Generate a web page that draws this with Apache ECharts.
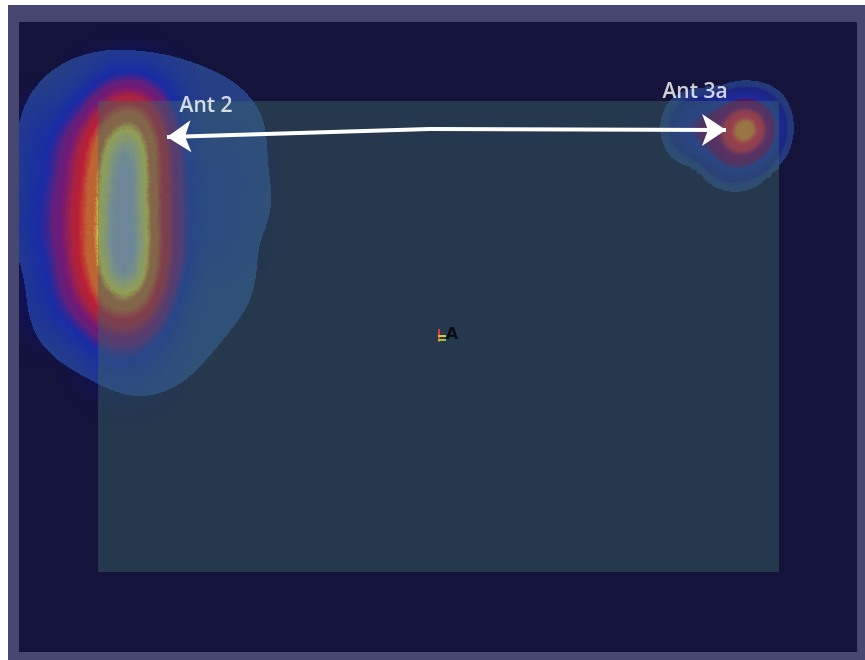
<!DOCTYPE html>
<html>
<head>
<meta charset="utf-8">
<title>Ant 2 / Ant 3a coverage</title>
<script src="https://cdn.jsdelivr.net/npm/echarts@6/dist/echarts.min.js"></script>
<style>
  html, body { margin: 0; padding: 0; background: #ffffff; }
  #main { position: absolute; left: 8px; top: 5px; width: 857px; height: 655px; background: #46466e; }
</style>
</head>
<body>
<div id="main"></div>
<script>
// floor plan in metres, x to the right, y downwards
const floorSize = [83.8, 63.0];
const surveyArea = [[7.9, 7.9], [76.0, 55.0]];

// Ant 2 coverage edge samples [x, y, level]
const ant2Coverage = [
  [9.9, 9.6, 1], [6.9, 10.6, 1], [14.1, 10.1, 1], [6.9, 13.8, 1], [5.3, 18.3, 1],
  [6.9, 22.8, 1], [7.6, 28.3, 1], [12.1, 30.8, 1], [14.6, 27.8, 1], [17.1, 24.8, 1],
  [18.6, 17.8, 1], [18.1, 11.8, 1], [12.1, 17.8, 1], [12.1, 23.8, 1]
];
// Ant 2 signal samples [x, y, level 0..1]
const ant2Signal = [
  [11.1, 9.8, 1.0], [11.1, 12.8, 1.0], [11.1, 15.8, 1.0], [11.1, 18.8, 1.0],
  [11.1, 21.8, 1.0], [11.1, 24.8, 1.0], [11.1, 27.6, 1.0],
  [10.9, 7.3, 0.3],
  [6.6, 12.8, 0.45], [6.6, 17.8, 0.55], [6.6, 22.8, 0.55], [6.6, 27.3, 0.4],
  [2.6, 11.8, 0.25], [2.6, 19.8, 0.3], [2.6, 27.8, 0.2],
  [19.6, 14.8, 0.25], [18.6, 21.3, 0.25],
  [10.1, 31.3, 0.3], [10.6, 33.8, 0.2]
];
// Ant 3a signal samples [x, y, level 0..1]
const ant3aSignal = [
  [72.7, 10.6, 1.0], [68.1, 10.6, 0.3], [71.6, 13.0, 0.3]
];

const antennaNames = ['Ant 2', 'Ant 3a'];
const antennaLabelPos = [[18.7, 8.4], [67.6, 7.0]];
// arrow between the two antennas: bend point, left end, right end
const linkBend = [41.1, 10.7];
const linkEnds = [[14.8, 11.5], [70.7, 10.8]];
const apMarker = [42.8, 31.3];

const toGeo = p => [p[0], -p[1]];

echarts.registerMap('floor', {
  type: 'FeatureCollection',
  features: [{
    type: 'Feature',
    properties: { name: 'floor' },
    geometry: {
      type: 'Polygon',
      coordinates: [[[0, 0], [floorSize[0], 0], [floorSize[0], -floorSize[1]], [0, -floorSize[1]], [0, 0]]]
    }
  }]
});

// heat scale: intensity -> rgba
function buildRamp(stops) {
  const out = [];
  for (let i = 0; i <= 100; i++) {
    const t = i / 100;
    let k = 0;
    while (k < stops.length - 2 && t > stops[k + 1][0]) k++;
    const a = stops[k], b = stops[k + 1];
    const f = Math.min(1, Math.max(0, (t - a[0]) / (b[0] - a[0])));
    const c = a[1].map((v, j) => v + (b[1][j] - v) * f);
    out.push('rgba(' + Math.round(c[0]) + ',' + Math.round(c[1]) + ',' + Math.round(c[2]) + ',' + c[3].toFixed(2) + ')');
  }
  return out;
}
const LB = [70, 140, 255], BL = [0, 10, 220], PU = [150, 5, 115], RD = [189, 30, 53],
  OR = [190, 100, 50], YE = [215, 205, 70], CORE = [150, 162, 195];
const c1 = c => c.concat(1);
const edgeScale = buildRamp([
  [0, LB.concat(0)], [0.28, LB.concat(0)], [0.32, c1(LB)], [1, c1(LB)]
]);
const ant2Scale = buildRamp([
  [0, c1(BL)], [0.10, c1(BL)], [0.15, c1(PU)], [0.18, c1(PU)],
  [0.24, c1(RD)], [0.28, c1(RD)], [0.33, c1(OR)], [0.37, c1(OR)],
  [0.40, c1(YE)], [0.43, [185, 190, 130, 1]], [0.455, c1(CORE)], [1, c1(CORE)]
]);
const ant3aScale = buildRamp([
  [0, LB.concat(0)], [0.003, LB.concat(0)], [0.005, c1(LB)], [0.018, c1(LB)],
  [0.03, [40, 70, 255, 1]], [0.10, [40, 70, 255, 1]], [0.14, c1(PU)], [0.23, c1(PU)],
  [0.29, [230, 35, 60, 1]], [0.37, [230, 35, 60, 1]], [0.42, [230, 130, 40, 1]], [1, [230, 150, 50, 1]]
]);

var chartDom = document.getElementById('main');
var myChart = echarts.init(chartDom);
var option;

option = {
  animation: false,
  geo: {
    map: 'floor',
    roam: false,
    silent: true,
    aspectScale: 1,
    left: 11,
    top: 17,
    width: 838,
    height: 630,
    boundingCoords: [[0, 0], [floorSize[0], -floorSize[1]]],
    label: { show: false },
    itemStyle: { areaColor: '#14133b', borderWidth: 0 },
    emphasis: { disabled: true }
  },
  visualMap: [
    { type: 'continuous', show: false, seriesIndex: 0, min: 0, max: 1, inRange: { color: edgeScale } },
    { type: 'continuous', show: false, seriesIndex: 1, min: 0, max: 1, inRange: { color: ant2Scale } },
    { type: 'continuous', show: false, seriesIndex: 2, min: 0, max: 1, inRange: { color: ant3aScale } }
  ],
  series: [
    {
      name: 'Ant 2 coverage',
      type: 'heatmap',
      coordinateSystem: 'geo',
      data: ant2Coverage.map(p => toGeo(p).concat(p[2])),
      pointSize: 60,
      blurSize: 30,
      minOpacity: 0.38,
      maxOpacity: 0.38
    },
    {
      name: 'Ant 2',
      type: 'heatmap',
      coordinateSystem: 'geo',
      data: ant2Signal.map(p => toGeo(p).concat(p[2])),
      pointSize: 20,
      blurSize: 60,
      minOpacity: 0,
      maxOpacity: 3.5
    },
    {
      name: 'Ant 3a',
      type: 'heatmap',
      coordinateSystem: 'geo',
      data: ant3aSignal.map(p => toGeo(p).concat(p[2])),
      pointSize: 17,
      blurSize: 33,
      minOpacity: 0.3,
      maxOpacity: 2.2
    },
    {
      // survey area drawn over the heat layer
      type: 'custom',
      coordinateSystem: 'geo',
      silent: true,
      z: 5,
      data: [toGeo(surveyArea[0]).concat(toGeo(surveyArea[1]))],
      renderItem: function (params, api) {
        const p0 = api.coord([api.value(0), api.value(1)]);
        const p1 = api.coord([api.value(2), api.value(3)]);
        return {
          type: 'rect',
          shape: { x: p0[0], y: p0[1], width: p1[0] - p0[0], height: p1[1] - p0[1] },
          style: { fill: 'rgba(60,103,103,0.45)' }
        };
      }
    },
    {
      type: 'lines',
      coordinateSystem: 'geo',
      silent: true,
      z: 6,
      symbol: ['none', 'arrow'],
      symbolSize: [10.5, 24],
      lineStyle: { color: '#ffffff', width: 4, opacity: 1, curveness: 0 },
      data: linkEnds.map(e => ({ coords: [toGeo(linkBend), toGeo(e)] }))
    },
    {
      type: 'scatter',
      coordinateSystem: 'geo',
      silent: true,
      z: 7,
      symbolSize: 1,
      itemStyle: { color: 'rgba(0,0,0,0)' },
      data: antennaNames.map((n, i) => ({ name: n, value: toGeo(antennaLabelPos[i]) })),
      label: {
        show: true,
        position: 'inside',
        formatter: '{b}',
        color: '#ffffff',
        fontSize: 21,
        fontWeight: 600,
        fontFamily: 'Open Sans'
      }
    },
    {
      type: 'custom',
      coordinateSystem: 'geo',
      silent: true,
      z: 7,
      data: [toGeo(apMarker)],
      renderItem: function (params, api) {
        const c = api.coord([api.value(0), api.value(1)]);
        return {
          type: 'group',
          x: c[0],
          y: c[1],
          children: [
            { type: 'rect', shape: { x: -9, y: -6, width: 2, height: 13 }, style: { fill: '#e0392b' } },
            { type: 'rect', shape: { x: -9, y: 0, width: 8, height: 2 }, style: { fill: '#d9c23c' } },
            { type: 'rect', shape: { x: -9, y: 4, width: 8, height: 2 }, style: { fill: '#9cc23c' } },
            { type: 'text', style: { text: 'A', x: 5, y: 0, fill: '#0c0c14', font: 'bold 16px "DejaVu Sans"', align: 'center', verticalAlign: 'middle' } }
          ]
        };
      }
    }
  ]
};

option && myChart.setOption(option);
</script>
</body>
</html>
